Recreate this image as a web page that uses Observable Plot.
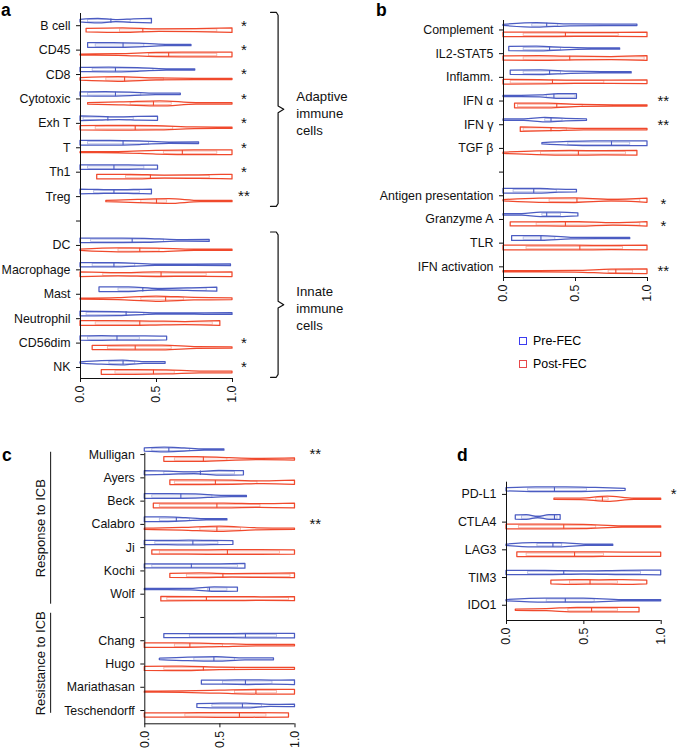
<!DOCTYPE html>
<html><head><meta charset="utf-8">
<script src="https://cdn.jsdelivr.net/npm/d3@7"></script>
<script src="https://cdn.jsdelivr.net/npm/@observablehq/plot@0.6"></script>
<style>
html,body{margin:0;padding:0;background:#fff;}
#root{position:relative;width:677px;height:750px;overflow:hidden;font-family:"Liberation Sans",Arial,sans-serif;color:#000;}
.panel{position:absolute;}
.panel svg{display:block;overflow:visible;}
.plabel{position:absolute;font-weight:bold;font-size:17.5px;line-height:20px;}
.leg{position:absolute;display:flex;align-items:center;font-size:12.4px;height:14px;line-height:14px;}
.leg .sq{width:8px;height:8px;box-sizing:border-box;border:1.5px solid;margin-right:6px;}
</style></head>
<body><div id="root"></div>
<script>
const PRE_COLOR = "#4b5cc2", POST_COLOR = "#f0492c";
const seriesNames = ["Pre-FEC", "Post-FEC"];
const legendColors = ["#3c3cf0", "#e8484a"];

// ---------- Panel a ----------
const aCategories = ["B cell","CD45","CD8","Cytotoxic","Exh T","T","Th1","Treg","","DC","Macrophage","Mast","Neutrophil","CD56dim","NK"];
// [min, q1, median, q3, max]
const aPre = [[0,0.05,0.2,0.33,0.47],[0.05,0.1,0.28,0.42,0.73],[0,0.08,0.23,0.48,0.755],[0,0.05,0.23,0.4,0.66],[0,0.02,0.18,0.35,0.51],[0,0.05,0.28,0.45,0.78],[0,0.05,0.22,0.42,0.51],[0,0.09,0.22,0.39,0.47],null,[0,0.07,0.34,0.55,0.85],[0,0.08,0.22,0.36,0.99],[0.125,0.25,0.41,0.83,0.9],[0,0.04,0.3,0.42,1],[0,0.05,0.24,0.39,0.57],[0,0.19,0.28,0.36,0.56]];
// relative violin widths at 5 evenly spaced points from min to max
const aPreShape = [[0.5,0.9,0.4,0.7,0.9],[0.9,0.9,0.7,0.25,0.25],[0.8,0.9,0.7,0.25,0.25],[0.8,0.9,0.7,0.25,0.25],[0.9,0.7,0.5,0.7,0.8],[0.9,0.9,0.7,0.25,0.35],[0.9,0.9,0.9,0.8,0.8],[0.9,0.8,0.7,0.8,0.9],null,[0.9,0.9,0.8,0.3,0.4],[0.8,0.8,0.25,0.25,0.35],[0.9,0.9,0.25,0.5,0.8],[0.9,0.8,0.25,0.25,0.35],[0.8,0.9,0.8,0.8,0.7],[0.25,0.7,0.9,0.35,0.35]];
const aPost = [[0.04,0.26,0.41,0.9,1],[0,0.45,0.58,0.9,1],[0,0.17,0.29,0.55,1],[0.05,0.33,0.48,0.6,1],[0,0.1,0.36,0.61,1],[0,0.55,0.67,0.9,1],[0.11,0.3,0.46,0.85,1],[0.17,0.4,0.5,0.57,1],null,[0,0.25,0.39,0.52,1],[0,0.15,0.53,0.83,1],[0,0.4,0.56,0.68,1],[0,0.1,0.39,0.87,0.92],[0.08,0.18,0.36,0.6,1],[0.14,0.23,0.48,0.62,1]];
const aPostShape = [[0.7,0.9,0.5,0.6,0.9],[0.2,0.3,0.8,0.9,0.9],[0.5,0.9,0.4,0.25,0.25],[0.25,0.6,1.0,0.3,0.25],[0.8,0.9,0.8,0.35,0.25],[0.2,0.25,0.7,0.9,0.9],[0.9,0.9,0.6,0.7,0.9],[0.25,0.6,0.9,0.25,0.25],null,[0.25,0.8,0.7,0.25,0.25],[0.9,0.6,0.9,0.8,0.9],[0.2,0.4,1.0,0.5,0.35],[0.9,0.9,0.8,0.6,0.9],[0.8,0.9,0.9,0.35,0.25],[0.9,0.9,0.8,0.35,0.35]];
const aStars = ["*","*","*","*","*","*","*","**","","","","","","*","*"];
const aGroupLabels = ["Adaptive\nimmune\ncells","Innate\nimmune\ncells"];
const aGroupRows = [[0,7],[9,14]];

// ---------- Panel b ----------
const bCategories = ["Complement","IL2-STAT5","Inflamm.","IFN α","IFN γ","TGF β","","Antigen presentation","Granzyme A","TLR","IFN activation"];
const bPre = [[0,0.2,0.3,0.38,0.93],[0.04,0.14,0.32,0.4,0.81],[0.05,0.14,0.32,0.4,0.89],[0,0.3,0.35,0.5,0.51],[0,0.29,0.33,0.41,0.58],[0.27,0.45,0.75,0.88,1],null,[0,0.07,0.21,0.37,0.51],[0,0.27,0.3,0.4,0.52],[0.06,0.14,0.26,0.36,0.88],null];
const bPreShape = [[0.2,0.9,0.35,0.25,0.25],[0.8,0.9,0.5,0.25,0.25],[0.8,0.9,0.4,0.25,0.25],[0.25,0.25,0.4,0.9,0.9],[0.25,0.3,0.9,0.5,0.25],[0.25,0.7,0.9,0.9,0.9],null,[0.9,0.9,0.9,0.6,0.5],[0.25,0.3,0.9,0.9,0.6],[0.9,0.9,0.3,0.25,0.25],null];
const bPost = [[0,0.14,0.43,0.8,1],[0,0.14,0.46,0.98,1],[0,0.05,0.34,0.7,1],[0.08,0.1,0.37,0.55,1],[0.12,0.14,0.33,0.44,1],[0,0.26,0.52,0.85,0.93],null,[0,0.32,0.51,0.95,1],[0.05,0.23,0.43,0.95,1],[0,0.16,0.53,0.83,1],[0,0.73,0.78,0.9,1]];
const bPostShape = [[0.9,0.9,0.8,0.8,0.9],[0.8,0.9,0.7,0.6,0.9],[0.9,0.8,0.6,0.6,0.7],[0.9,0.9,0.4,0.25,0.25],[0.9,0.6,0.25,0.25,0.25],[0.25,0.7,0.9,0.8,0.9],null,[0.25,0.8,0.9,0.3,0.8],[0.8,0.8,0.9,0.5,0.9],[0.9,0.9,0.9,0.8,0.9],[0.25,0.25,0.3,0.8,0.9]];
const bStars = ["","","","**","**","","","*","*","","**"];
const bStarShift = [0,0,0,0,0,0,0,0.35,0.28,0,0.2];

// ---------- Panel c ----------
const cCategories = ["Mulligan","Ayers","Beck","Calabro","Ji","Kochi","Wolf","","Chang","Hugo","Mariathasan","Teschendorff"];
const cPre = [[0,0.05,0.16,0.3,0.53],[0,0.13,0.37,0.6,0.66],[0,0.05,0.24,0.45,0.68],[0,0.1,0.21,0.3,0.55],[0,0.07,0.32,0.49,0.59],[0,0.05,0.31,0.62,0.67],[0,0.42,0.43,0.55,0.62],null,[0.13,0.3,0.67,0.88,1],[0.1,0.33,0.46,0.6,0.86],[0.38,0.52,0.67,0.85,1],[0.35,0.45,0.65,0.78,1]];
const cPreShape = [[0.6,0.9,0.6,0.25,0.25],[0.8,0.6,0.3,0.9,0.8],[0.9,0.9,0.8,0.3,0.25],[0.9,0.9,0.6,0.25,0.25],[0.8,0.8,0.9,0.8,0.7],[0.8,0.8,0.8,0.8,0.9],[0.25,0.25,0.3,0.9,0.8],null,[0.8,0.8,0.8,0.9,0.9],[0.25,0.7,0.9,0.35,0.35],[0.8,0.8,0.9,0.8,0.9],[0.7,0.9,0.9,0.4,0.5]];
const cPost = [[0.13,0.2,0.39,0.55,1],[0.17,0.2,0.47,0.75,1],[0.06,0.1,0.48,0.77,1],[0,0.37,0.48,0.64,1],[0.05,0.1,0.55,0.9,1],[0.17,0.28,0.52,0.97,1],[0.11,0.15,0.41,0.96,1],null,[0,0.2,0.3,0.52,1],[0,0.13,0.39,0.6,1],[0,0.6,0.74,0.88,1],[0,0.27,0.63,0.81,0.96]];
const cPostShape = [[0.9,0.9,0.5,0.25,0.4],[0.9,0.9,0.8,0.5,0.8],[0.9,0.9,0.9,0.7,0.9],[0.25,0.5,1.0,0.4,0.25],[0.8,0.8,0.9,0.9,0.8],[0.8,0.9,0.7,0.8,0.9],[0.9,0.8,0.8,0.7,0.8],null,[0.9,0.9,0.6,0.25,0.25],[0.8,0.9,0.5,0.35,0.35],[0.2,0.3,0.6,0.9,0.9],[0.8,0.8,0.9,0.9,0.8]];
const cStars = ["**","","","**","","","","","","","",""];
const cGroupLabels = ["Response to ICB","Resistance to ICB"];
const cGroupSpans = [[-0.1,6.43],[6.82,11.12]];

// ---------- Panel d ----------
const dCategories = ["PD-L1","CTLA4","LAG3","TIM3","IDO1"];
const dPre = [[0,0.14,0.31,0.52,0.77],[0.06,0.1,0.31,0.33,0.35],[0,0.2,0.3,0.36,0.69],[0,0.14,0.37,0.87,1],[0,0.26,0.38,0.57,1]];
const dPreShape = [[0.6,0.9,0.9,0.7,0.4],[0.8,0.9,0.2,0.9,0.9],[0.25,0.8,0.8,0.25,0.25],[0.8,0.8,0.6,0.8,0.9],[0.25,0.8,0.8,0.25,0.25]];
const dPost = [[0.31,0.58,0.62,0.66,1],[0,0.08,0.37,0.58,1],[0.07,0.13,0.44,0.63,1],[0.29,0.41,0.54,0.72,0.91],[0.06,0.4,0.55,0.72,0.86]];
const dPostShape = [[0.25,0.3,1.0,0.25,0.25],[0.9,0.9,0.8,0.25,0.25],[0.9,0.9,0.9,0.8,0.8],[0.7,0.9,0.8,0.9,0.7],[0.25,0.4,0.9,0.9,0.9]];
const dStars = ["*","","","",""];

const xTicks = [0, 0.5, 1];

function makePanel(o) {
  const n = o.cats.length;
  const innerH = o.height - o.marginTop - o.marginBottom;
  const spacing = innerH / (o.yDomain[1] - o.yDomain[0]);
  const hw = 2.6 / spacing, offPre = -4.6 / spacing, offPost = 4.9 / spacing;
  const build = (statsArr, shapeArr, off, tag) => {
    const areas = [], boxes = [], meds = [];
    statsArr.forEach((stats, i) => {
      if (!stats) return;
      const [lo, q1, med, q3, hi] = stats;
      const shape = shapeArr[i];
      shape.forEach((w, k) => {
        areas.push({id: tag + i, x: lo + (hi - lo) * k / 4, y1: i + off - w * hw, y2: i + off + w * hw});
      });
      boxes.push({x1: q1, x2: q3, y1: i + off - 0.45 * hw, y2: i + off + 0.45 * hw});
      meds.push({x: med, y1: i + off - 0.85 * hw, y2: i + off + 0.85 * hw});
    });
    return {areas, boxes, meds};
  };
  const pre = build(o.pre, o.preShape, offPre, "pre");
  const post = build(o.post, o.postShape, offPost, "post");
  const violin = (v, color) => [
    Plot.areaY(v.areas, {x: "x", y1: "y1", y2: "y2", z: "id", fill: "white", stroke: color, strokeWidth: 1.25, curve: "monotone-x"}),
    Plot.rect(v.boxes, {x1: "x1", x2: "x2", y1: "y1", y2: "y2", fill: "none", stroke: color, strokeOpacity: 0.45, strokeWidth: 0.8}),
    Plot.ruleX(v.meds, {x: "x", y1: "y1", y2: "y2", stroke: color, strokeWidth: 1.1})
  ];
  const starData = o.stars.map((s, i) => ({s, y: i + (o.starShift ? o.starShift[i] : 0)})).filter(d => d.s);
  const marks = [
    ...violin(pre, PRE_COLOR),
    ...violin(post, POST_COLOR),
    Plot.ruleX([0], {stroke: "#111", strokeWidth: 1}),
    Plot.ruleY([o.yDomain[1]], {stroke: "#111", strokeWidth: 1}),
    Plot.text(starData, {x: () => o.starX, y: "y", text: "s", fontSize: 15, fill: "#111"}),
    ...(o.extra || [])
  ];
  return Plot.plot({
    width: o.width, height: o.height,
    marginLeft: o.marginLeft, marginRight: o.marginRight, marginTop: o.marginTop, marginBottom: o.marginBottom,
    style: "font-family: 'Liberation Sans', Arial, sans-serif; font-size: 12.4px; background: transparent; overflow: visible; color: #111;",
    x: {domain: [0, 1], ticks: xTicks, tickFormat: d => d.toFixed(1), tickRotate: -90, tickSize: 4, tickPadding: 3, label: null},
    y: {domain: o.yDomain, reverse: true, ticks: d3.range(n), tickFormat: i => o.cats[i], tickSize: 4, tickPadding: 6, label: null},
    marks
  });
}

function braceMarks(rows, labels, xa, xb, xc, xt) {
  const pts = [], txt = [];
  rows.forEach(([from, to], g) => {
    const top = from - 0.55, bot = to + 0.4, mid = (top + bot) / 2;
    [[xa, top], [xb - 0.012, top], [xb, top + 0.12], [xb, mid - 0.14], [xc, mid], [xb, mid + 0.14], [xb, bot - 0.12], [xb - 0.012, bot], [xa, bot]]
      .forEach(([x, y]) => pts.push({g, x, y}));
    txt.push({x: xt, y: mid + 0.12, t: labels[g]});
  });
  return [
    Plot.line(pts, {x: "x", y: "y", z: "g", stroke: "#111", strokeWidth: 1.2, curve: "linear"}),
    Plot.text(txt, {x: "x", y: "y", text: "t", textAnchor: "start", lineAnchor: "middle", lineHeight: 1.3, fontSize: 13.2, fill: "#111"})
  ];
}

function groupMarks(spans, labels, xLine, xText) {
  const data = spans.map(([a, b], i) => ({y1: a, y2: b, y: (a + b) / 2, t: labels[i]}));
  return [
    Plot.ruleX(data, {x: () => xLine, y1: "y1", y2: "y2", stroke: "#111", strokeWidth: 1}),
    Plot.text(data, {x: () => xText, y: "y", text: "t", rotate: -90, fontSize: 13, fill: "#111"})
  ];
}

const root = document.getElementById("root");
function place(node, left, top) {
  const d = document.createElement("div");
  d.className = "panel"; d.style.left = left + "px"; d.style.top = top + "px";
  d.appendChild(node); root.appendChild(d);
}

place(makePanel({cats: aCategories, pre: aPre, preShape: aPreShape, post: aPost, postShape: aPostShape, stars: aStars,
  width: 360, height: 418, marginLeft: 80, marginRight: 128, marginTop: 13, marginBottom: 40, yDomain: [-0.5, 14.45], starX: 1.075,
  extra: braceMarks(aGroupRows, aGroupLabels, 1.25, 1.30, 1.337, 1.42)}), 0, 0);

place(makePanel({cats: bCategories, pre: bPre, preShape: bPreShape, post: bPost, postShape: bPostShape, stars: bStars, starShift: bStarShift,
  width: 347, height: 317, marginLeft: 173, marginRight: 30, marginTop: 20, marginBottom: 40, yDomain: [-0.4, 10.45], starX: 1.11}), 330, 0);

place(makePanel({cats: cCategories, pre: cPre, preShape: cPreShape, post: cPost, postShape: cPostShape, stars: cStars,
  width: 340, height: 323.3, marginLeft: 144.3, marginRight: 45.5, marginTop: 12.7, marginBottom: 40, yDomain: [-0.06, 11.57], starX: 1.135,
  extra: groupMarks(cGroupSpans, cGroupLabels, -0.627, -0.693)}), 0, 440);

place(makePanel({cats: dCategories, pre: dPre, preShape: dPreShape, post: dPost, postShape: dPostShape, stars: dStars,
  width: 237, height: 220, marginLeft: 66, marginRight: 16.3, marginTop: 41.7, marginBottom: 40, yDomain: [-0.44, 4.55], starX: 1.08}), 440, 440);

// panel letters
[["a", 1, 0], ["b", 376, 0], ["c", 2, 445], ["d", 457, 445]].forEach(([t, l, tp]) => {
  const d = document.createElement("div");
  d.className = "plabel"; d.textContent = t; d.style.left = l + "px"; d.style.top = tp + "px";
  root.appendChild(d);
});

// legend
seriesNames.forEach((name, i) => {
  const d = document.createElement("div");
  d.className = "leg";
  d.style.left = "519px"; d.style.top = (334 + i * 23) + "px";
  const sq = document.createElement("span");
  sq.className = "sq"; sq.style.borderColor = legendColors[i];
  d.appendChild(sq); d.appendChild(document.createTextNode(name));
  root.appendChild(d);
});
</script></body></html>
